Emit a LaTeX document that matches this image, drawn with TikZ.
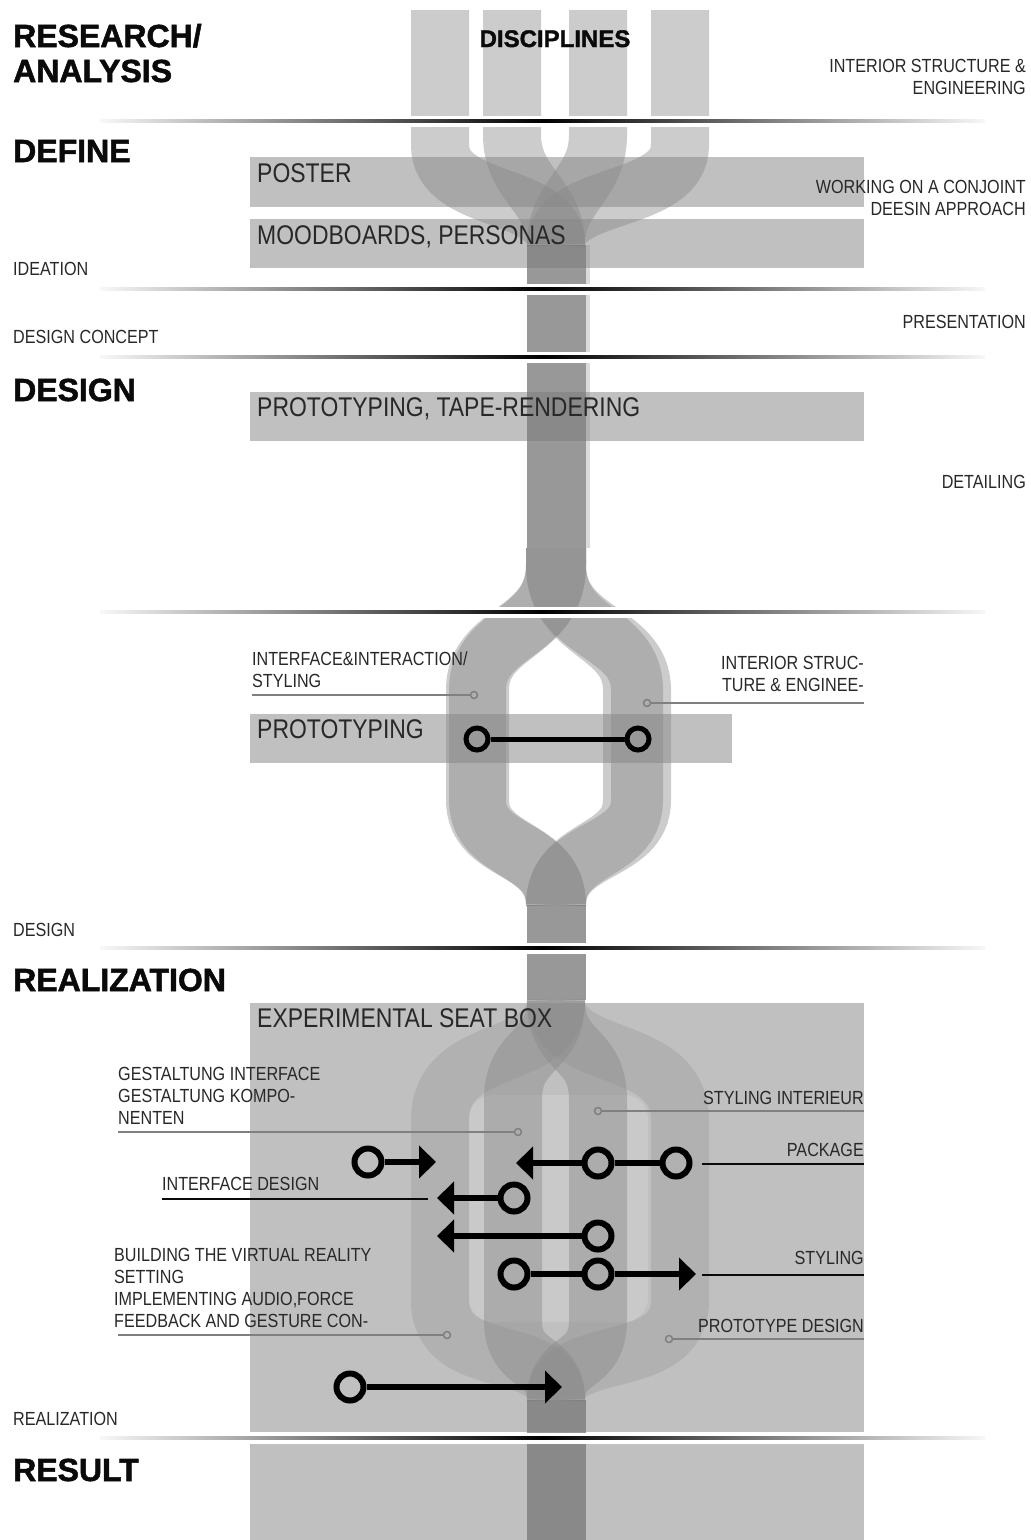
\documentclass[tikz,border=0pt]{standalone}
\usepackage{fontspec}
\usetikzlibrary{arrows.meta}
\newfontfamily\headfont{Liberation Sans}[UprightFont={* Bold}, FakeBold=1.6]
\newfontfamily\labfont{Liberation Sans}[FakeStretch=0.85]
\definecolor{panelgray}{RGB}{192,192,192}
\definecolor{bandgray}{RGB}{136,136,136}
\definecolor{stemgray}{RGB}{120,120,120}
\definecolor{leadergray}{RGB}{128,128,128}
\definecolor{ink}{RGB}{10,10,10}
\definecolor{labink}{RGB}{40,40,40}
\begin{document}
\begin{tikzpicture}[x=1pt,y=-1pt,
  heading/.style={font=\headfont\fontsize{32}{32}\selectfont, text=ink, inner sep=0pt, anchor=base west},
  subhead/.style={font=\headfont\fontsize{24}{24}\selectfont, text=ink, inner sep=0pt, anchor=base},
  lbl/.style={font=\labfont\fontsize{19}{19}\selectfont, text=labink, inner sep=0pt},
  lblw/.style={lbl, anchor=base west},
  lble/.style={lbl, anchor=base east},
  boxtitle/.style={font=\labfont\fontsize{27}{27}\selectfont, text=labink, inner sep=0pt, anchor=base west},
  band/.style={draw=bandgray, draw opacity=0.43, line width=58pt},
  faintband/.style={band, draw opacity=0.25},
  stemfill/.style={fill=stemgray, fill opacity=0.76},
  rulebar/.style={left color=gray!6, right color=gray!6, middle color=black},
  leader/.style={draw=leadergray, line width=1.5pt},
  endmark/.style={circle, draw=leadergray, line width=1.5pt, minimum size=7pt, inner sep=0pt},
  keyline/.style={draw=ink, line width=1.8pt},
  ringnode/.style={circle, draw=black, line width=6pt, minimum size=27pt, inner sep=0pt},
  smallring/.style={circle, draw=black, line width=5pt, minimum size=22pt, inner sep=0pt},
  linkline/.style={draw=black, line width=6pt},
  flowline/.style={linkline, -{Triangle[length=17pt,width=32pt]}},
]
\useasboundingbox (0,0) rectangle (1031,1540);

% ---- grey activity panels
\fill[panelgray] (250,157) rectangle (864,207);
\fill[panelgray] (250,219) rectangle (864,268);
\fill[panelgray] (250,392) rectangle (864,441);
\fill[panelgray] (250,714) rectangle (732,763);
\fill[panelgray] (250,1003) rectangle (864,1432);
\fill[panelgray] (250,1444) rectangle (864,1540);
\fill[white, fill opacity=0.15, rounded corners=24pt] (469,1095) rectangle (648,1322);

% ---- the four discipline strands merging into one
\draw[band] (440,10) -- (440,145) .. controls (440,205) and (556,190) .. (556,245);
\draw[band] (512,10) -- (512,135) .. controls (512,185) and (556,195) .. (556,245);
\draw[band] (598,10) -- (598,135) .. controls (598,185) and (556,195) .. (556,245);
\draw[band] (680,10) -- (680,145) .. controls (680,205) and (556,190) .. (556,245);
\fill[stemfill] (527,245) rectangle (586,548);
\fill[bandgray, fill opacity=0.3] (586,245) rectangle (590,548);

% ---- split into two strands around the prototyping step
\foreach \cx in {476,479,633,641}{
  \draw[band, line width=60pt] (556,548) -- (556,565) .. controls (556,635) and (\cx,630) .. (\cx,690)
     -- (\cx,800) .. controls (\cx,855) and (556,845) .. (556,905);
}
\fill[stemfill] (527,905) rectangle (586,1000);

% ---- realization: four strands open up again
\foreach \cx in {440,680}{
  \draw[faintband] (556,1000) .. controls (556,1065) and (\cx,1040) .. (\cx,1120)
     -- (\cx,1300) .. controls (\cx,1375) and (556,1340) .. (556,1400);
}
\foreach \cx in {513,598}{
  \draw[band] (556,1000) .. controls (556,1055) and (\cx,1045) .. (\cx,1100)
     -- (\cx,1320) .. controls (\cx,1370) and (556,1355) .. (556,1400);
}
\fill[stemfill] (527,1400) rectangle (586,1540);

% ---- phase separators
\foreach \s in {121,289,357,612,948,1438}{
  \fill[white] (0,\s-5.5) rectangle (1031,\s+5.5);
  \shade[rulebar] (100,\s-1.5) rectangle (985,\s+1.5);
}

% ---- phase headings
\node[heading] (hres) at (13,47) {RESEARCH/};
\node[heading] (hana) at (13,82) {ANALYSIS};
\node[subhead] (hdis) at (555,47) {DISCIPLINES};
\node[heading] (hdef) at (13,162) {DEFINE};
\node[heading] (hdes) at (13,401) {DESIGN};
\node[heading] (hrea) at (13,991) {REALIZATION};
\node[heading] (hresu) at (13,1481) {RESULT};

% ---- outcome labels on the left
\node[lblw] (oidea) at (13,275) {IDEATION};
\node[lblw] (oconc) at (13,343) {DESIGN CONCEPT};
\node[lblw] (odes) at (13,936) {DESIGN};
\node[lblw] (oreal) at (13,1425) {REALIZATION};

% ---- notes on the right
\node[lble] (nint1) at (1026,72) {INTERIOR STRUCTURE \&};
\node[lble] (nint2) at (1026,94) {ENGINEERING};
\node[lble] (nwork1) at (1026,193) {WORKING ON A CONJOINT};
\node[lble] (nwork2) at (1026,215) {DEESIN APPROACH};
\node[lble] (npres) at (1026,328) {PRESENTATION};
\node[lble] (ndet) at (1026,488) {DETAILING};

% ---- panel titles
\node[boxtitle] (tposter) at (257,182) {POSTER};
\node[boxtitle] (tmood) at (257,244) {MOODBOARDS, PERSONAS};
\node[boxtitle] (ttape) at (257,416) {PROTOTYPING, TAPE-RENDERING};
\node[boxtitle] (tproto) at (257,738) {PROTOTYPING};
\node[boxtitle] (tseat) at (257,1027) {EXPERIMENTAL SEAT BOX};

% ---- prototyping step
\node[lblw] (ii1) at (252,665) {INTERFACE\&INTERACTION/};
\node[lblw] (ii2) at (252,687) {STYLING};
\node[endmark] (pinA) at (474,695) {};
\coordinate (legA) at (252,695);
\draw[leader] (legA) -- (pinA);
\node[lble] (is1) at (864,669) {INTERIOR STRUC-};
\node[lble] (is2) at (864,691) {TURE \& ENGINEE-};
\node[endmark] (pinB) at (647,703) {};
\coordinate (legB) at (864,703);
\draw[leader] (pinB) -- (legB);
\node[smallring] (sA) at (477,739) {};
\node[smallring] (sB) at (638,739) {};
\draw[black, line width=5pt] (sA) -- (sB);

% ---- realization labels
\node[lblw] (g1) at (118,1080) {GESTALTUNG INTERFACE};
\node[lblw] (g2) at (118,1102) {GESTALTUNG KOMPO-};
\node[lblw] (g3) at (118,1124) {NENTEN};
\node[endmark] (pinC) at (518,1132) {};
\coordinate (legC) at (118,1132);
\draw[leader] (legC) -- (pinC);

\node[lble] (si) at (864,1104) {STYLING INTERIEUR};
\node[endmark] (pinD) at (598,1111) {};
\coordinate (legD) at (864,1111);
\draw[leader] (pinD) -- (legD);

\node[lble] (pk) at (864,1156) {PACKAGE};
\coordinate (pkA) at (702,1164);
\coordinate (pkB) at (864,1164);
\draw[keyline] (pkA) -- (pkB);

\node[lblw] (idz) at (162,1190) {INTERFACE DESIGN};
\coordinate (idA) at (162,1199);
\coordinate (idB) at (428,1199);
\draw[keyline] (idA) -- (idB);

\node[lblw] (b1) at (114,1261) {BUILDING THE VIRTUAL REALITY};
\node[lblw] (b2) at (114,1283) {SETTING};
\node[lblw] (b3) at (114,1305) {IMPLEMENTING AUDIO,FORCE};
\node[lblw] (b4) at (114,1327) {FEEDBACK AND GESTURE CON-};
\node[endmark] (pinE) at (447,1335) {};
\coordinate (legE) at (118,1335);
\draw[leader] (legE) -- (pinE);

\node[lble] (sty) at (864,1264) {STYLING};
\coordinate (stA) at (702,1275);
\coordinate (stB) at (864,1275);
\draw[keyline] (stA) -- (stB);

\node[lble] (pd) at (864,1332) {PROTOTYPE DESIGN};
\node[endmark] (pinF) at (669,1339) {};
\coordinate (legF) at (864,1339);
\draw[leader] (pinF) -- (legF);

% ---- hand-overs between the strands
\node[ringnode] (r1) at (368,1162) {};
\coordinate (t1) at (436,1162);
\draw[flowline] (r1) -- (t1);

\node[ringnode] (r2a) at (598,1163) {};
\node[ringnode] (r2b) at (676,1163) {};
\coordinate (t2) at (516,1163);
\draw[linkline] (r2a) -- (r2b);
\draw[flowline] (r2a) -- (t2);

\node[ringnode] (r3) at (514,1198) {};
\coordinate (t3) at (437,1198);
\draw[flowline] (r3) -- (t3);

\node[ringnode] (r4) at (598,1236) {};
\coordinate (t4) at (437,1236);
\draw[flowline] (r4) -- (t4);

\node[ringnode] (r5a) at (514,1274) {};
\node[ringnode] (r5b) at (598,1274) {};
\coordinate (t5) at (696,1274);
\draw[linkline] (r5a) -- (r5b);
\draw[flowline] (r5b) -- (t5);

\node[ringnode] (r6) at (350,1387) {};
\coordinate (t6) at (562,1387);
\draw[flowline] (r6) -- (t6);
\end{tikzpicture}
\end{document}
